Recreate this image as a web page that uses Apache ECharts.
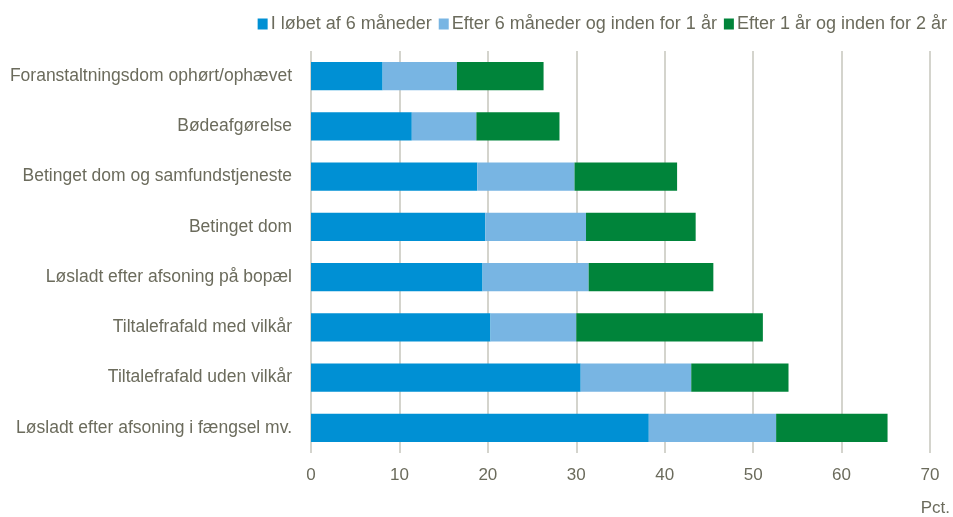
<!DOCTYPE html>
<html>
<head>
<meta charset="utf-8">
<script src="https://cdn.jsdelivr.net/npm/echarts@6/dist/echarts.min.js"></script>
<style>
html,body{margin:0;padding:0;background:#fff;}
#chart{width:953px;height:517px;}
</style>
</head>
<body>
<div id="chart"></div>
<script>
const categories = [
  "Foranstaltningsdom ophørt/ophævet",
  "Bødeafgørelse",
  "Betinget dom og samfundstjeneste",
  "Betinget dom",
  "Løsladt efter afsoning på bopæl",
  "Tiltalefrafald med vilkår",
  "Tiltalefrafald uden vilkår",
  "Løsladt efter afsoning i fængsel mv."
];
const seriesNames = ["I løbet af 6 måneder", "Efter 6 måneder og inden for 1 år", "Efter 1 år og inden for 2 år"];
const within6m = [8.1, 11.4, 18.8, 19.7, 19.4, 20.3, 30.5, 38.2];
const within1y = [8.4, 7.3, 11.0, 11.4, 12.0, 9.7, 12.5, 14.4];
const within2y = [9.8, 9.4, 11.6, 12.4, 14.1, 21.1, 11.0, 12.6];
const xTicks = [0, 10, 20, 30, 40, 50, 60, 70];

const textColor = '#6b6b5c';
const font = "'Liberation Sans', Arial, sans-serif";
const colors = ['#0090d4', '#78b5e3', '#00843a'];

const chart = echarts.init(document.getElementById('chart'));
chart.setOption({
  animation: false,
  textStyle: { fontFamily: font },
  legend: {
    top: 10, right: 1,
    itemWidth: 10, itemHeight: 11, itemGap: 7,
    icon: 'rect',
    textStyle: { color: textColor, fontSize: 18, fontFamily: font, padding: [0,0,0,-2] },
    data: seriesNames
  },
  grid: { left: 311, right: 23, top: 51, bottom: 64, containLabel: false, outerBoundsMode: 'none' },
  xAxis: {
    type: 'value', min: xTicks[0], max: xTicks[xTicks.length-1], interval: 10,
    axisLine: { show: false }, axisTick: { show: false },
    axisLabel: { color: textColor, fontSize: 17, fontFamily: font, margin: 14 },
    splitLine: { lineStyle: { color: '#c6c6bc', width: 1.5 } }
  },
  yAxis: {
    type: 'category', data: categories, inverse: true,
    axisLine: { show: false }, axisTick: { show: false },
    axisLabel: { color: textColor, fontSize: 17.5, fontFamily: font, margin: 19 }
  },
  graphic: [{
    type: 'text', right: 3, top: 500,
    style: { text: 'Pct.', fill: textColor, fontSize: 17, fontFamily: font }
  }],
  series: [within6m, within1y, within2y].map((d, i) => ({
    name: seriesNames[i], type: 'bar', stack: 'total', data: d,
    barCategoryGap: '44%',
    itemStyle: { color: colors[i] }
  }))
});
</script>
</body>
</html>
